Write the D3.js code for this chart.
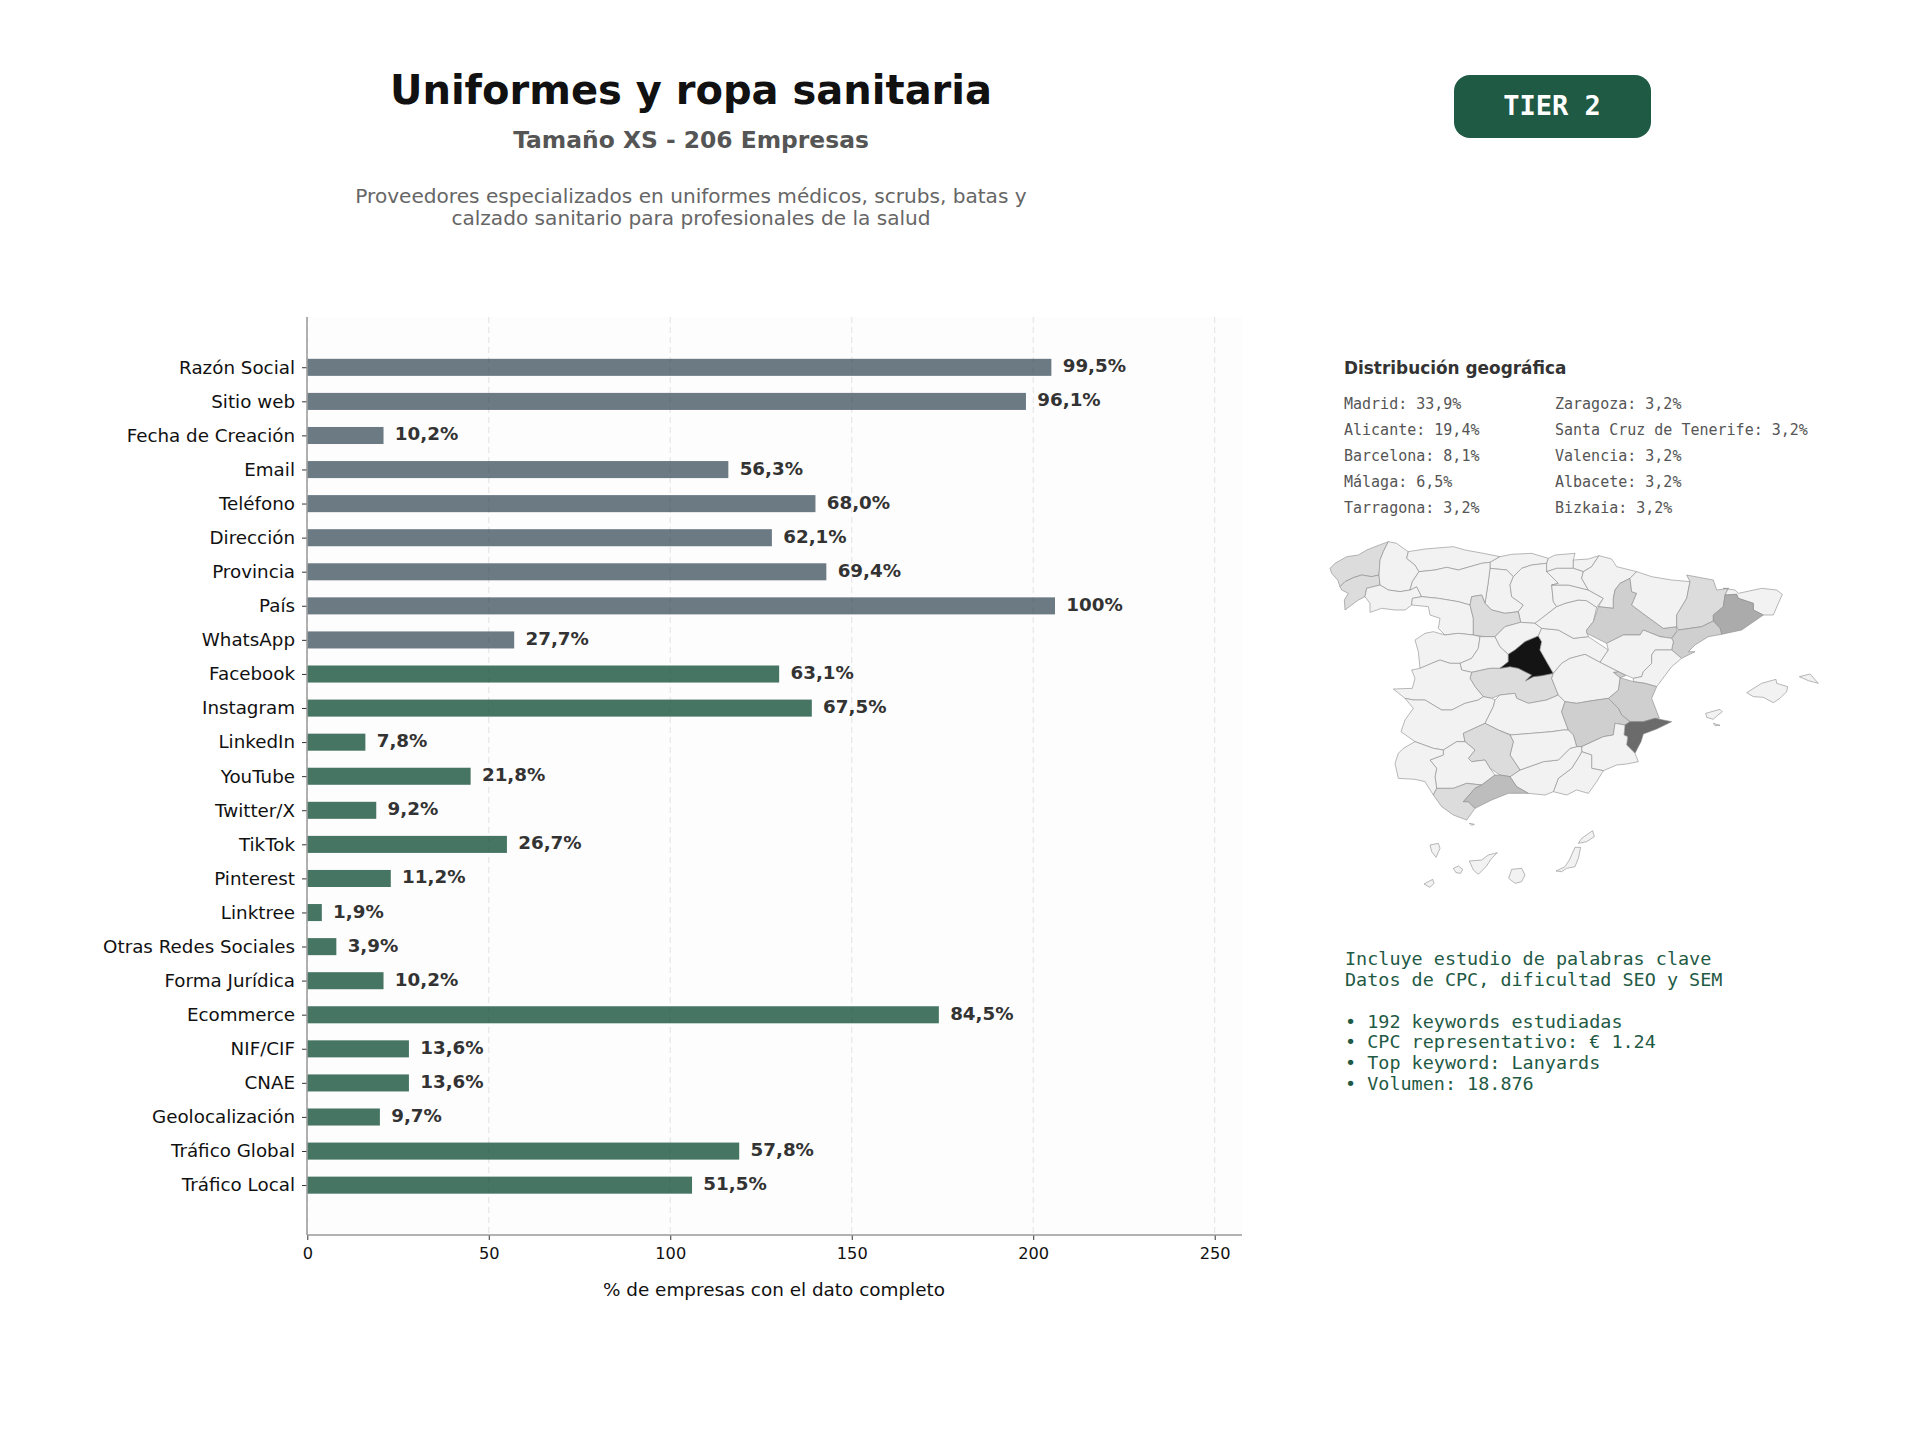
<!DOCTYPE html>
<html>
<head>
<meta charset="utf-8">
<script src="https://cdn.jsdelivr.net/npm/d3@7"></script>
<style>
  body { margin: 0; background: #fff; }
  text { font-family: "DejaVu Sans", sans-serif; }
  .mono { font-family: "DejaVu Sans Mono", monospace; }
</style>
</head>
<body>
<svg width="1920" height="1440"></svg>
<script>
const categories = ["Razón Social", "Sitio web", "Fecha de Creación", "Email", "Teléfono", "Dirección", "Provincia", "País", "WhatsApp",
    "Facebook", "Instagram", "LinkedIn", "YouTube", "Twitter/X", "TikTok", "Pinterest", "Linktree", "Otras Redes Sociales",
    "Forma Jurídica", "Ecommerce", "NIF/CIF", "CNAE", "Geolocalización", "Tráfico Global", "Tráfico Local"];
const counts = [205, 198, 21, 116, 140, 128, 143, 206, 57, 130, 139, 16, 45, 19, 55, 23, 4, 8, 21, 174, 28, 28, 20, 119, 106];
const percents = ["99,5%", "96,1%", "10,2%", "56,3%", "68,0%", "62,1%", "69,4%", "100%", "27,7%", "63,1%", "67,5%", "7,8%", "21,8%",
    "9,2%", "26,7%", "11,2%", "1,9%", "3,9%", "10,2%", "84,5%", "13,6%", "13,6%", "9,7%", "57,8%", "51,5%"];
const basicFields = 9; // the first nine bars are the grey ones
const xTicks = [0, 50, 100, 150, 200, 250];

const geoColumnA = ["Madrid: 33,9%", "Alicante: 19,4%", "Barcelona: 8,1%", "Málaga: 6,5%", "Tarragona: 3,2%"];
const geoColumnB = ["Zaragoza: 3,2%", "Santa Cruz de Tenerife: 3,2%", "Valencia: 3,2%", "Albacete: 3,2%", "Bizkaia: 3,2%"];
const keywordLines = ["Incluye estudio de palabras clave", "Datos de CPC, dificultad SEO y SEM", "",
    "• 192 keywords estudiadas", "• CPC representativo: € 1.24", "• Top keyword: Lanyards", "• Volumen: 18.876"];
const descriptionLines = ["Proveedores especializados en uniformes médicos, scrubs, batas y",
    "calzado sanitario para profesionales de la salud"];

// share per province as shaded on the map (Tenerife and Bizkaia stay pale there)
const provinceShare = {
    "Madrid": 33.9, "Alicante": 19.4, "Barcelona": 8.1, "Málaga": 6.5, "Tarragona": 3.2, "Zaragoza": 3.2, "Valencia": 3.2, "Ademuz": 3.2, "Albacete": 3.2,
    "A Coruña": 1.6, "Pontevedra": 1.6, "Valladolid": 1.6, "Toledo": 1.6, "Lleida": 1.6, "Córdoba": 1.6, "Cádiz": 1.6
};

// province outlines, in map units
const provinceRings = {
    "A Coruña": [[15,100],[30,85],[65,65],[100,60],[125,45],[150,35],[190,20],[175,50],[165,75],[162,120],[140,125],[110,120],[85,128],[60,140],[45,155],[38,135],[20,115]],
    "Pontevedra": [[45,155],[60,140],[85,128],[110,120],[140,125],[162,120],[165,150],[125,160],[120,185],[100,195],[60,225],[58,195],[70,175],[50,165]],
    "Lugo": [[190,20],[215,25],[235,40],[250,50],[245,70],[270,90],[282,110],[262,140],[255,165],[225,170],[190,165],[165,150],[162,120],[165,75],[175,50]],
    "Ourense": [[165,150],[190,165],[225,170],[255,165],[275,155],[290,185],[262,190],[260,210],[240,225],[210,225],[170,220],[135,232],[135,205],[120,185],[125,160]],
    "Asturias": [[250,50],[300,42],[385,35],[420,45],[475,55],[525,65],[495,82],[470,85],[435,95],[400,105],[365,97],[330,105],[282,110],[270,90],[245,70]],
    "Cantabria": [[525,65],[560,58],[620,55],[670,70],[665,85],[620,90],[590,100],[565,125],[545,105],[495,100],[495,82]],
    "Palencia": [[495,100],[545,105],[565,125],[555,150],[560,185],[595,210],[580,230],[540,235],[500,225],[480,205],[490,140]],
    "Burgos": [[590,100],[620,90],[665,85],[665,110],[700,145],[680,150],[685,200],[695,215],[650,250],[630,265],[587,262],[580,230],[595,210],[560,185],[555,150],[565,125]],
    "León": [[282,110],[330,105],[365,97],[400,105],[435,95],[470,85],[495,82],[495,100],[490,140],[480,205],[470,180],[440,185],[435,210],[400,200],[340,190],[290,185],[275,155],[255,165],[262,140]],
    "Zamora": [[290,185],[340,190],[400,200],[435,210],[445,250],[445,300],[400,295],[360,300],[340,280],[345,250],[315,240],[310,215],[260,210],[262,190]],
    "Valladolid": [[435,210],[440,185],[470,180],[480,205],[500,225],[540,235],[580,230],[587,262],[540,275],[510,305],[480,305],[445,300],[445,250]],
    "Salamanca": [[360,300],[400,295],[445,300],[465,305],[460,340],[440,370],[405,385],[375,385],[345,375],[320,385],[285,400],[280,350],[270,315],[300,295],[325,290]],
    "Ávila": [[465,305],[480,305],[510,305],[525,335],[550,358],[550,380],[525,400],[495,400],[440,412],[410,405],[405,385],[440,370],[460,340]],
    "Segovia": [[510,305],[540,275],[587,262],[630,265],[650,280],[640,303],[600,320],[570,345],[550,358],[525,335]],
    "Toledo": [[440,412],[495,400],[525,400],[555,395],[580,400],[620,420],[602,437],[625,425],[650,422],[685,415],[680,430],[700,480],[665,495],[610,505],[575,490],[570,475],[525,480],[500,490],[475,485],[450,455],[435,430]],
    "Madrid": [[640,303],[650,320],[645,345],[665,380],[685,415],[650,422],[625,425],[602,437],[620,420],[580,400],[555,395],[525,400],[550,380],[550,358],[570,345],[600,320]],
    "Cáceres": [[260,405],[285,400],[320,385],[345,375],[375,385],[405,385],[410,405],[440,412],[435,430],[450,455],[475,485],[460,495],[420,505],[380,525],[350,525],[300,495],[265,495],[240,490],[205,462],[262,460],[270,430]],
    "Badajoz": [[240,490],[265,495],[300,495],[350,525],[380,525],[420,505],[460,495],[475,485],[500,490],[510,495],[505,515],[480,565],[415,595],[420,620],[395,620],[355,645],[325,640],[270,620],[228,590],[240,555],[265,520]],
    "Ciudad Real": [[510,495],[525,480],[570,475],[575,490],[610,505],[665,495],[700,480],[720,500],[710,530],[715,545],[730,585],[715,585],[680,590],[620,595],[560,600],[520,585],[480,565],[505,515]],
    "Guadalajara": [[650,280],[700,285],[745,310],[790,305],[850,345],[825,382],[780,358],[735,370],[710,385],[685,415],[665,380],[645,345],[650,320],[640,303]],
    "Soria": [[630,265],[650,250],[695,215],[720,205],[760,195],[785,197],[815,217],[805,260],[785,285],[790,305],[745,310],[700,285],[650,280]],
    "La Rioja": [[680,150],[730,150],[790,165],[835,190],[815,217],[785,197],[760,195],[720,205],[695,215],[685,200]],
    "Bizkaia": [[670,70],[690,60],[750,55],[745,75],[745,100],[695,100],[665,110],[665,85]],
    "Gipuzkoa": [[745,75],[790,72],[822,62],[800,95],[775,110],[745,100]],
    "Álava": [[665,110],[695,100],[745,100],[775,110],[770,130],[790,165],[730,150],[680,150],[700,145]],
    "Navarra": [[822,62],[860,72],[875,95],[935,110],[915,130],[885,145],[870,165],[865,190],[865,220],[820,215],[835,190],[790,165],[770,130],[775,110],[800,95]],
    "Zaragoza": [[870,165],[885,145],[915,130],[920,170],[935,175],[920,210],[960,240],[1015,280],[1055,275],[1055,290],[1040,310],[1005,305],[955,285],[945,300],[895,300],[845,325],[785,295],[785,285],[805,260],[820,215],[865,220],[865,190]],
    "Huesca": [[935,110],[980,125],[1040,135],[1095,140],[1085,190],[1055,240],[1055,275],[1015,280],[960,240],[920,210],[935,175],[920,170],[915,130]],
    "Lleida": [[1085,120],[1165,135],[1175,165],[1210,160],[1200,180],[1195,215],[1165,240],[1165,258],[1130,275],[1060,285],[1055,275],[1055,240],[1085,190],[1095,140]],
    "Girona": [[1195,160],[1230,165],[1240,175],[1310,160],[1355,165],[1372,178],[1360,205],[1345,240],[1315,240],[1285,225],[1285,205],[1240,190],[1235,178],[1200,180],[1210,160]],
    "Barcelona": [[1200,180],[1235,178],[1240,190],[1285,205],[1285,225],[1315,240],[1250,285],[1190,298],[1185,280],[1165,258],[1165,240],[1195,215]],
    "Tarragona": [[1130,275],[1165,258],[1185,280],[1190,298],[1150,305],[1110,330],[1090,350],[1110,350],[1070,370],[1040,345],[1045,320],[1040,310],[1055,290],[1060,285]],
    "Teruel": [[945,300],[955,285],[1005,305],[1040,310],[1045,320],[1040,345],[990,345],[980,360],[980,385],[955,410],[950,425],[925,430],[880,410],[825,382],[850,345],[845,325],[895,300]],
    "Castellón": [[990,345],[1040,345],[1070,370],[1040,395],[995,455],[960,445],[925,440],[925,430],[950,425],[955,410],[980,385],[980,360]],
    "Ademuz": [[865,412],[880,410],[902,422],[885,428]],
    "Valencia": [[885,428],[925,440],[960,445],[995,455],[980,490],[1003,550],[990,550],[955,560],[915,560],[890,540],[880,520],[850,490],[880,465]],
    "Cuenca": [[685,415],[710,385],[735,370],[780,358],[825,382],[880,410],[865,412],[885,428],[880,465],[850,490],[795,498],[755,505],[720,500],[700,480],[680,430]],
    "Albacete": [[720,500],[755,505],[795,498],[850,490],[880,520],[890,540],[915,560],[900,570],[870,565],[865,600],[835,605],[770,635],[755,635],[745,600],[730,585],[715,545],[710,530]],
    "Alicante": [[915,560],[955,560],[990,550],[1040,560],[995,582],[955,597],[948,620],[940,635],[930,655],[905,630],[908,605],[897,600],[900,570]],
    "Murcia": [[900,570],[897,600],[908,605],[905,630],[930,655],[940,680],[905,687],[875,690],[835,707],[800,700],[800,660],[770,650],[770,635],[835,605],[865,600],[870,565]],
    "Almería": [[770,650],[800,660],[800,700],[835,707],[815,740],[790,775],[755,765],[725,780],[685,770],[700,730],[740,700],[765,660]],
    "Granada": [[555,725],[585,705],[655,680],[700,675],[735,640],[755,635],[770,635],[770,650],[765,660],[740,700],[700,730],[685,770],[660,780],[610,775],[575,755]],
    "Jaén": [[555,600],[620,595],[680,590],[715,585],[730,585],[745,600],[755,635],[735,640],[700,675],[655,680],[585,705],[555,660],[565,620]],
    "Córdoba": [[415,595],[480,565],[520,585],[555,600],[565,620],[555,660],[585,705],[555,725],[525,720],[495,700],[480,675],[440,680],[430,670],[450,645],[420,620]],
    "Sevilla": [[315,675],[355,660],[355,645],[395,620],[420,620],[450,645],[430,670],[440,680],[480,675],[495,700],[510,720],[470,750],[425,745],[385,760],[335,760],[330,725],[335,700]],
    "Huelva": [[210,685],[220,655],[235,640],[270,620],[325,640],[355,645],[355,660],[315,675],[335,700],[330,725],[335,760],[325,780],[300,740],[270,733],[220,730]],
    "Cádiz": [[335,760],[385,760],[425,745],[470,750],[450,760],[415,800],[430,800],[450,820],[425,855],[385,840],[350,815],[325,780]],
    "Málaga": [[415,800],[450,760],[470,750],[510,720],[525,720],[555,725],[575,755],[610,775],[550,775],[500,795],[450,820],[430,800]],
    "La Palma": [[315,930],[340,925],[345,940],[333,967],[320,950]],
    "La Gomera": [[385,1000],[400,993],[413,1003],[407,1015],[393,1013]],
    "Tenerife": [[433,978],[470,975],[490,960],[517,953],[500,970],[483,995],[460,1018],[445,1005]],
    "Gran Canaria": [[560,1003],[590,1000],[600,1020],[590,1040],[570,1045],[551,1030]],
    "Fuerteventura": [[750,937],[767,937],[760,970],[750,995],[725,1000],[710,1010],[693,1008],[720,995],[733,975]],
    "Lanzarote": [[770,910],[803,887],[808,905],[785,920],[760,925]],
    "El Hierro": [[297,1047],[323,1033],[327,1045],[315,1057]],
    "Mallorca": [[1265,473],[1310,445],[1353,433],[1355,445],[1388,455],[1385,470],[1365,490],[1345,503],[1315,487],[1285,485]],
    "Menorca": [[1423,425],[1455,417],[1480,445],[1450,437]],
    "Ibiza": [[1142,535],[1185,523],[1192,530],[1175,543],[1165,553],[1145,547]],
    "Formentera": [[1165,565],[1185,571],[1170,572]],
    "Ceuta": [[433,865],[448,868],[440,871]]
};

const svg = d3.select("svg");
const grey = "#2e4250", green = "#18523c";

// header
svg.append("text").attr("x", 691).attr("y", 104).attr("text-anchor", "middle")
    .attr("font-size", 40).attr("font-weight", "bold").attr("fill", "#111").text("Uniformes y ropa sanitaria");
svg.append("text").attr("x", 691).attr("y", 148).attr("text-anchor", "middle")
    .attr("font-size", 23.4).attr("font-weight", "bold").attr("fill", "#555").text("Tamaño XS - 206 Empresas");
svg.selectAll(".desc").data(descriptionLines).join("text").attr("class", "desc")
    .attr("x", 691).attr("y", (d, i) => 203 + i * 22).attr("text-anchor", "middle")
    .attr("font-size", 20.1).attr("fill", "#666").text(d => d);

svg.append("rect").attr("x", 1454).attr("y", 75).attr("width", 197).attr("height", 63).attr("rx", 16)
    .attr("fill", "#1f5a45");
svg.append("text").attr("class", "mono").attr("x", 1552).attr("y", 115).attr("text-anchor", "middle")
    .attr("font-size", 27).attr("font-weight", "bold").attr("fill", "#fff").text("TIER 2");

// bars
const x = d3.scaleLinear().domain([0, 250]).range([307.3, 1214.7]);
const y = d3.scaleBand().domain(categories).range([350.3, 1202.2]).paddingInner(0.5).paddingOuter(0.25);

svg.append("rect").attr("x", 307).attr("y", 317).attr("width", 935).attr("height", 918).attr("fill", "#fdfdfd");

svg.selectAll(".grid").data(xTicks).join("line").attr("class", "grid")
    .attr("x1", d => x(d)).attr("x2", d => x(d)).attr("y1", 317).attr("y2", 1235)
    .attr("stroke", "#e2e2e2").attr("stroke-width", 1).attr("stroke-dasharray", "6,4");

svg.selectAll(".bar").data(categories).join("rect").attr("class", "bar")
    .attr("x", x(0)).attr("y", d => y(d))
    .attr("width", (d, i) => x(counts[i]) - x(0)).attr("height", y.bandwidth())
    .attr("fill", (d, i) => i < basicFields ? grey : green).attr("fill-opacity", (d, i) => i < basicFields ? 0.7 : 0.8);

svg.selectAll(".value").data(categories).join("text").attr("class", "value")
    .attr("x", (d, i) => x(counts[i]) + 11.3).attr("y", d => y(d) + y.bandwidth() / 2 + 5)
    .attr("font-size", 18.3).attr("font-weight", "bold").attr("fill", "#333")
    .text((d, i) => percents[i]);

const yAxis = svg.append("g").attr("transform", "translate(307,0.4)")
    .call(d3.axisLeft(y).tickSize(5).tickPadding(7));
yAxis.select(".domain").remove();
yAxis.selectAll("text").attr("font-size", 18.3).attr("font-family", "DejaVu Sans").attr("fill", "#111");
yAxis.selectAll("line").attr("stroke", "#333");

const xAxis = svg.append("g").attr("transform", "translate(0,1235)")
    .call(d3.axisBottom(x).tickValues(xTicks).tickSize(5).tickPadding(7));
xAxis.select(".domain").remove();
xAxis.selectAll("text").attr("font-size", 16.2).attr("font-family", "DejaVu Sans").attr("fill", "#111");
xAxis.selectAll("line").attr("stroke", "#333");

svg.append("line").attr("x1", 307).attr("x2", 307).attr("y1", 317).attr("y2", 1235).attr("stroke", "#999").attr("stroke-width", 1.5);
svg.append("line").attr("x1", 307).attr("x2", 1242).attr("y1", 1235).attr("y2", 1235).attr("stroke", "#999").attr("stroke-width", 1.5);

svg.append("text").attr("x", 774).attr("y", 1296).attr("text-anchor", "middle")
    .attr("font-size", 18.4).attr("fill", "#111").text("% de empresas con el dato completo");

// geography panel
svg.append("text").attr("x", 1344).attr("y", 374).attr("font-size", 16.9).attr("font-weight", "bold")
    .attr("fill", "#333").text("Distribución geográfica");

[[geoColumnA, 1344], [geoColumnB, 1555]].forEach(([rows, left]) => {
    svg.append("g").selectAll("text").data(rows).join("text").attr("class", "mono")
        .attr("x", left).attr("y", (d, i) => 408.6 + i * 26.1)
        .attr("font-size", 15).attr("fill", "#555").text(d => d);
});

// map
const shade = d3.scaleLinear()
    .domain([0, 1.6, 3.2, 6.5, 8.1, 19.4, 33.9])
    .range(["#f2f2f2", "#dcdcdc", "#cfcfcf", "#bdbdbd", "#ababab", "#6b6b6b", "#141414"]);
const mapPath = d3.geoPath(d3.geoIdentity().scale(1 / 3).translate([1325, 535]));

svg.append("g").selectAll("path").data(Object.keys(provinceRings)).join("path")
    .attr("d", name => {
        const ring = provinceRings[name];
        return mapPath({type: "Polygon", coordinates: [[...ring, ring[0]]]});
    })
    .attr("fill", name => shade(provinceShare[name] || 0))
    .attr("stroke", "#8a8a8a").attr("stroke-width", 0.6).attr("stroke-linejoin", "round");

// keywords note
svg.selectAll(".kw").data(keywordLines).join("text").attr("class", "kw mono")
    .attr("x", 1345).attr("y", (d, i) => 965 + i * 20.85)
    .attr("font-size", 18.45).attr("fill", "#1f5a45").attr("xml:space", "preserve").text(d => d);
</script>
</body>
</html>
